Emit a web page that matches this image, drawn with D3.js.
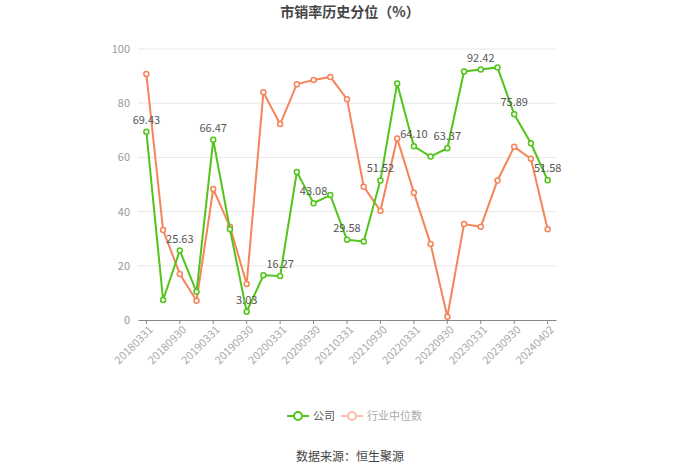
<!DOCTYPE html>
<html>
<head>
<meta charset="utf-8">
<script src="https://cdn.jsdelivr.net/npm/d3@7/dist/d3.min.js"></script>
<style>
  body { margin: 0; background: #fff; }
  svg, svg text { font-family: "Noto Sans CJK SC", "Noto Sans", sans-serif; }
</style>
</head>
<body>
<svg id="chart"></svg>
<script>
'use strict';

// quarterly dates, last one is the latest trading day
var dates = ['20180331', '20180630', '20180930', '20181231',
  '20190331', '20190630', '20190930', '20191231',
  '20200331', '20200630', '20200930', '20201231',
  '20210331', '20210630', '20210930', '20211231',
  '20220331', '20220630', '20220930', '20221231',
  '20230331', '20230630', '20230930', '20231231', '20240402'];
var company = [69.43, 7.4, 25.63, 10.4, 66.47, 33.5, 3.03, 16.5, 16.27, 54.6,
  43.08, 46.1, 29.58, 29.0, 51.52, 87.3, 64.10, 60.3, 63.37, 91.7,
  92.42, 93.2, 75.89, 65.2, 51.58];
var industry = [90.8, 33.2, 17.0, 7.1, 48.3, 34.4, 13.3, 84.0, 72.3, 87.0,
  88.6, 89.7, 81.5, 49.2, 40.3, 67.0, 47.0, 28.0, 1.2, 35.4,
  34.4, 51.5, 63.9, 59.5, 33.5];
var yTicks = [0, 20, 40, 60, 80, 100];
var seriesNames = ['公司', '行业中位数'];

var canvasWidth = 700;
var canvasHeight = 474;
var margin = { top: 49, right: 144, bottom: 154, left: 138 };
var width = canvasWidth - margin.left - margin.right;
var height = canvasHeight - margin.top - margin.bottom;

var green = '#52c41a';
var orange = '#f5845a';

var svg = d3.select('#chart')
  .attr('width', canvasWidth)
  .attr('height', canvasHeight);

svg.append('text')
  .attr('x', canvasWidth / 2)
  .attr('y', 17)
  .attr('text-anchor', 'middle')
  .attr('font-size', 14)
  .attr('font-weight', 'bold')
  .attr('fill', '#464646')
  .text('市销率历史分位（%）');

var g = svg.append('g')
  .attr('transform', 'translate(' + margin.left + ',' + margin.top + ')');

var xScale = d3.scaleBand().domain(dates).range([0, width]);
var yScale = d3.scaleLinear().domain([0, 100]).range([height, 0]);
var xPos = function(d) { return xScale(d) + xScale.bandwidth() / 2; };

// grid lines
g.selectAll('.grid')
  .data(yTicks.slice(1))
  .enter()
  .append('line')
  .attr('x1', 0)
  .attr('x2', width)
  .attr('y1', d => yScale(d))
  .attr('y2', d => yScale(d))
  .attr('stroke', '#e8e8e8');

// y axis labels
var yAxis = g.append('g')
  .call(d3.axisLeft(yScale).tickValues(yTicks).tickSize(0).tickPadding(8));
yAxis.attr('font-family', null);
yAxis.select('.domain').remove();
yAxis.selectAll('text').attr('fill', '#999').attr('font-size', 11);

// x axis
var labelDates = dates.filter((d, i) => i % 2 == 0);
var xAxis = g.append('g')
  .attr('transform', 'translate(0,' + height + ')')
  .call(d3.axisBottom(xScale).tickValues(labelDates).tickSize(4).tickSizeOuter(0));
xAxis.attr('font-family', null);
xAxis.select('.domain').attr('stroke', '#888');
xAxis.selectAll('.tick line').attr('stroke', '#888');
xAxis.selectAll('text')
  .attr('fill', '#aaa')
  .attr('font-size', 11)
  .attr('text-anchor', 'end')
  .attr('dx', '-0.2em')
  .attr('dy', '0.5em')
  .attr('transform', 'rotate(-45)');

function drawSeries(values, color) {
  var line = d3.line()
    .x((d, i) => xPos(dates[i]))
    .y(d => yScale(d));
  g.append('path')
    .datum(values)
    .attr('d', line)
    .attr('fill', 'none')
    .attr('stroke', color)
    .attr('stroke-width', 2);
  g.selectAll(null)
    .data(values)
    .enter()
    .append('circle')
    .attr('cx', (d, i) => xPos(dates[i]))
    .attr('cy', d => yScale(d))
    .attr('r', 2.5)
    .attr('fill', '#fff')
    .attr('stroke', color)
    .attr('stroke-width', 1.5);
}

drawSeries(industry, orange);
drawSeries(company, green);

// value labels on every second company point
g.selectAll('.vlabel')
  .data(company)
  .enter()
  .filter((d, i) => i % 2 == 0)
  .append('text')
  .attr('x', (d, i) => xPos(dates[i * 2]))
  .attr('y', d => yScale(d) - 8)
  .attr('text-anchor', 'middle')
  .attr('font-size', 11)
  .attr('fill', '#555')
  .text(d => d.toFixed(2));

// legend
var legend = svg.append('g').attr('transform', 'translate(287,416)');
var legendItems = [
  { name: seriesNames[0], color: green, text: '#555', x: 0 },
  { name: seriesNames[1], color: '#f9bea6', text: '#aaa', x: 54 }
];
legendItems.forEach(function(it) {
  var li = legend.append('g').attr('transform', 'translate(' + it.x + ',0)');
  li.append('line').attr('x1', 0).attr('x2', 22).attr('y1', 0).attr('y2', 0)
    .attr('stroke', it.color).attr('stroke-width', 2);
  li.append('circle').attr('cx', 11).attr('cy', 0).attr('r', 4)
    .attr('fill', '#fff').attr('stroke', it.color).attr('stroke-width', 2);
  li.append('text').attr('x', 26).attr('y', 4).attr('font-size', 11)
    .attr('fill', it.text).text(it.name);
});

svg.append('text')
  .attr('x', canvasWidth / 2)
  .attr('y', 461)
  .attr('text-anchor', 'middle')
  .attr('font-size', 12)
  .attr('fill', '#444')
  .text('数据来源：恒生聚源');
</script>
</body>
</html>
